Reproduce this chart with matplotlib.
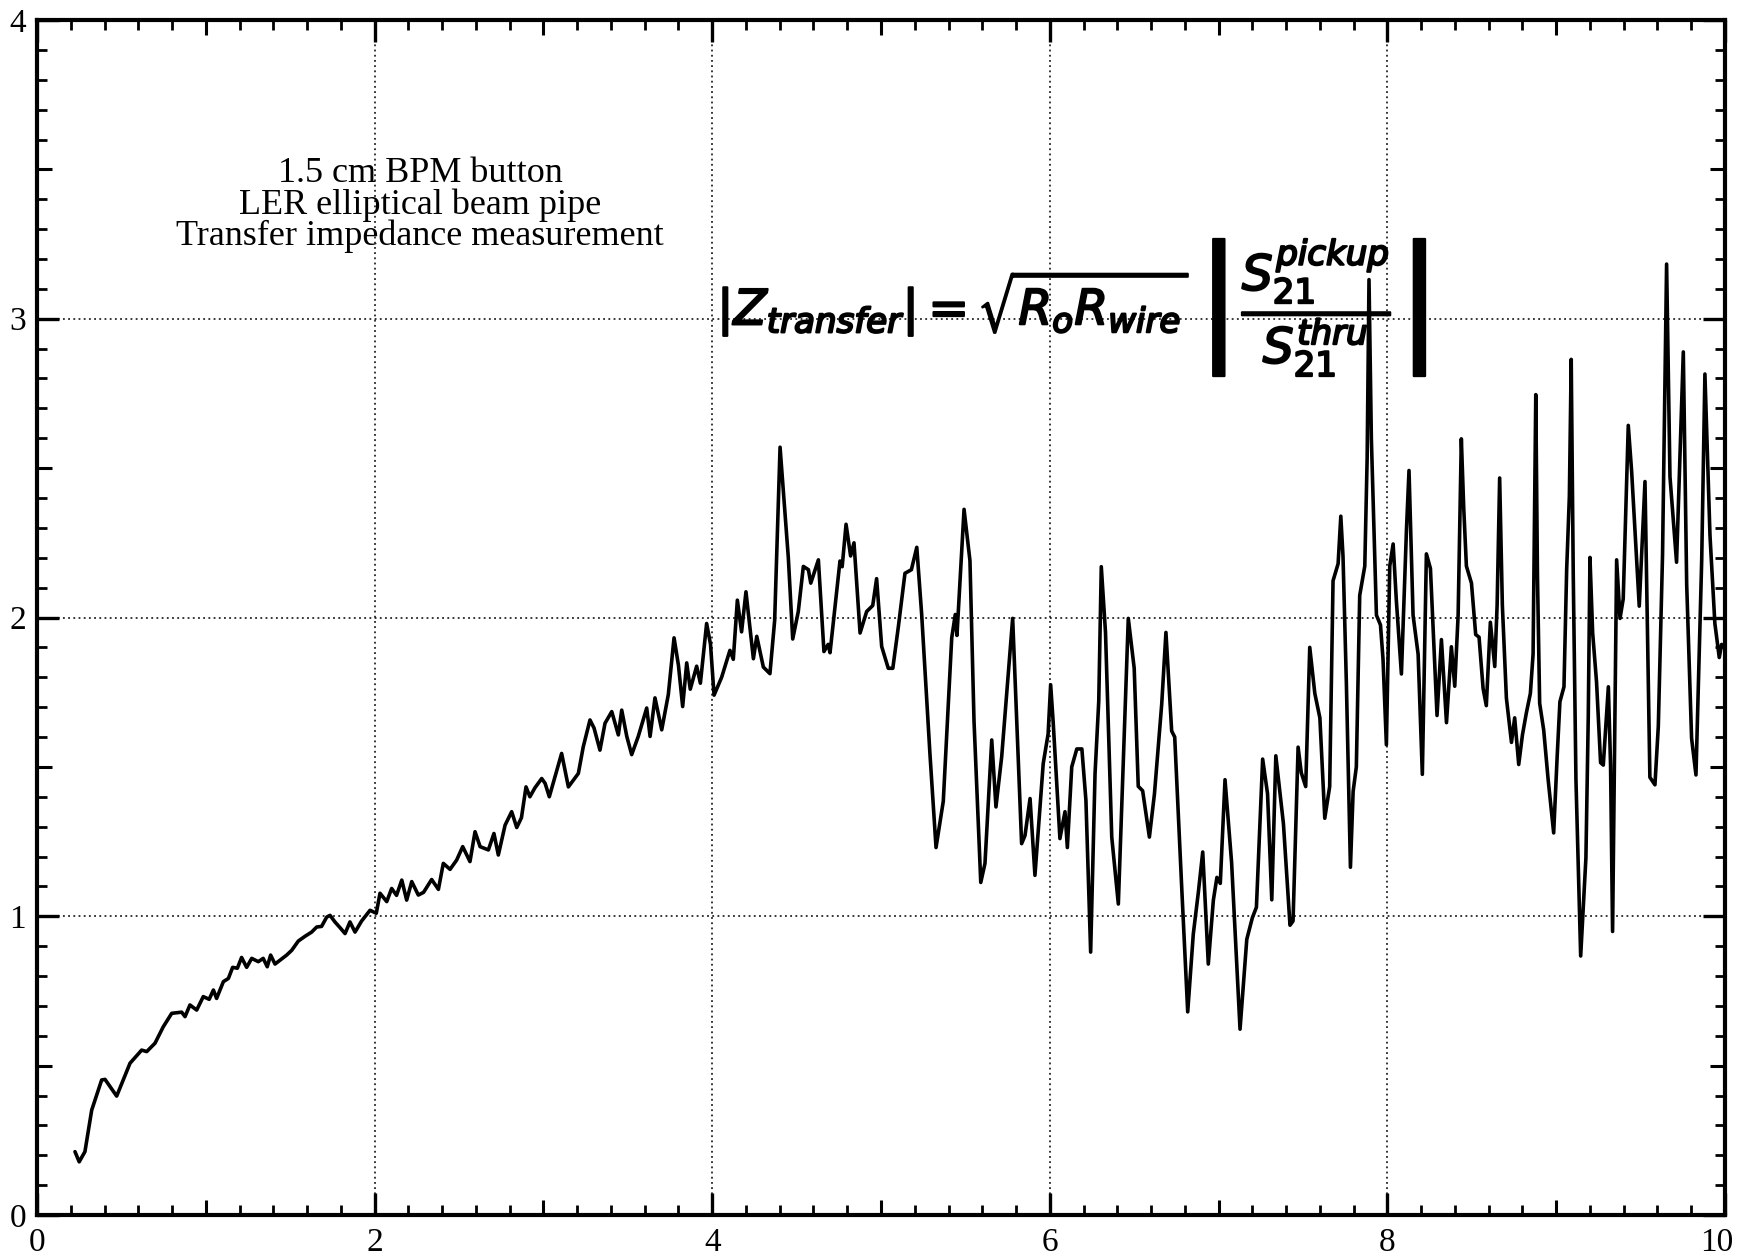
import matplotlib
matplotlib.use("Agg")
import matplotlib.pyplot as plt
import matplotlib.patheffects as pe
from matplotlib.transforms import ScaledTranslation
from matplotlib.ticker import MultipleLocator, FixedLocator, NullFormatter, FixedFormatter

# Measured transfer impedance of the 1.5 cm BPM button (frequency in GHz, |Z| in ohms)
freq = [
    0.225, 0.25, 0.284, 0.324, 0.383, 0.403, 0.472, 0.551, 0.62, 0.65,
    0.699, 0.748, 0.798, 0.857, 0.877, 0.906, 0.946, 0.985, 1.02, 1.045,
    1.064, 1.104, 1.134, 1.159, 1.187, 1.212, 1.242, 1.272, 1.311, 1.34,
    1.364, 1.384, 1.41, 1.44, 1.479, 1.509, 1.548, 1.588, 1.627, 1.657,
    1.686, 1.716, 1.736, 1.765, 1.795, 1.825, 1.854, 1.884, 1.923, 1.973,
    2.01, 2.032, 2.072, 2.101, 2.13, 2.161, 2.19, 2.22, 2.259, 2.29,
    2.338, 2.378, 2.407, 2.447, 2.486, 2.522, 2.565, 2.595, 2.625, 2.674,
    2.707, 2.733, 2.773, 2.812, 2.842, 2.87, 2.897, 2.92, 2.95, 2.99,
    3.01, 3.035, 3.108, 3.148, 3.207, 3.236, 3.276, 3.30, 3.335, 3.365,
    3.405, 3.444, 3.464, 3.494, 3.523, 3.562, 3.612, 3.632, 3.661, 3.701,
    3.74, 3.774, 3.80, 3.825, 3.849, 3.87, 3.908, 3.93, 3.967, 3.99,
    4.011, 4.056, 4.105, 4.125, 4.149, 4.174, 4.2, 4.244, 4.264, 4.303,
    4.342, 4.37, 4.402, 4.451, 4.477, 4.51, 4.54, 4.57, 4.584, 4.629,
    4.662, 4.687, 4.698, 4.757, 4.77, 4.793, 4.82, 4.84, 4.876, 4.915,
    4.951, 4.974, 5.004, 5.043, 5.07, 5.103, 5.142, 5.18, 5.212, 5.241,
    5.29, 5.326, 5.369, 5.419, 5.44, 5.45, 5.492, 5.527, 5.551, 5.591,
    5.616, 5.656, 5.681, 5.715, 5.78, 5.833, 5.853, 5.883, 5.912, 5.961,
    5.99, 6.005, 6.02, 6.06, 6.09, 6.104, 6.13, 6.16, 6.19, 6.214,
    6.242, 6.268, 6.29, 6.305, 6.33, 6.367, 6.406, 6.465, 6.50, 6.524,
    6.55, 6.59, 6.62, 6.663, 6.688, 6.722, 6.74, 6.782, 6.817, 6.85,
    6.88, 6.906, 6.939, 6.969, 6.99, 7.01, 7.038, 7.077, 7.127, 7.167,
    7.20, 7.224, 7.261, 7.29, 7.315, 7.339, 7.384, 7.423, 7.441, 7.471,
    7.49, 7.516, 7.54, 7.57, 7.60, 7.629, 7.658, 7.678, 7.708, 7.724,
    7.737, 7.757, 7.781, 7.797, 7.816, 7.836, 7.866, 7.88, 7.891, 7.905,
    7.935, 7.959, 7.974, 7.994, 8.014, 8.034, 8.053, 8.083, 8.113, 8.128,
    8.152, 8.182, 8.207, 8.231, 8.255, 8.27, 8.294, 8.32, 8.35, 8.379,
    8.399, 8.419, 8.438, 8.452, 8.468, 8.498, 8.523, 8.543, 8.567, 8.586,
    8.61, 8.636, 8.65, 8.665, 8.681, 8.705, 8.735, 8.754, 8.778, 8.80,
    8.823, 8.847, 8.863, 8.879, 8.889, 8.902, 8.926, 8.952, 8.985, 9.006,
    9.022, 9.046, 9.062, 9.078, 9.089, 9.101, 9.117, 9.145, 9.176, 9.19,
    9.2, 9.216, 9.239, 9.263, 9.279, 9.309, 9.322, 9.334, 9.358, 9.378,
    9.397, 9.427, 9.447, 9.492, 9.526, 9.555, 9.585, 9.605, 9.63, 9.654,
    9.674, 9.713, 9.753, 9.773, 9.802, 9.828, 9.862, 9.881, 9.911, 9.94,
    9.966, 9.98,
]
z_transfer = [
    0.212, 0.178, 0.212, 0.351, 0.452, 0.454, 0.398, 0.508, 0.552, 0.547,
    0.575, 0.630, 0.675, 0.679, 0.664, 0.703, 0.686, 0.731, 0.722, 0.753,
    0.725, 0.781, 0.792, 0.829, 0.826, 0.862, 0.829, 0.859, 0.848, 0.859,
    0.831, 0.870, 0.840, 0.853, 0.870, 0.886, 0.917, 0.933, 0.947, 0.964,
    0.966, 0.997, 1.003, 0.981, 0.962, 0.942, 0.981, 0.947, 0.984, 1.02,
    1.01, 1.077, 1.049, 1.093, 1.07, 1.121, 1.054, 1.116, 1.071, 1.08,
    1.123, 1.090, 1.177, 1.157, 1.188, 1.233, 1.183, 1.283, 1.233, 1.222,
    1.277, 1.205, 1.305, 1.350, 1.297, 1.33, 1.433, 1.40, 1.43, 1.461,
    1.445, 1.400, 1.545, 1.433, 1.478, 1.567, 1.657, 1.63, 1.556, 1.646,
    1.685, 1.607, 1.690, 1.602, 1.541, 1.602, 1.697, 1.602, 1.731, 1.624,
    1.742, 1.932, 1.84, 1.702, 1.848, 1.76, 1.837, 1.78, 1.98, 1.91,
    1.74, 1.80, 1.89, 1.86, 2.058, 1.952, 2.086, 1.862, 1.937, 1.834,
    1.812, 1.99, 2.57, 2.20, 1.928, 2.02, 2.171, 2.16, 2.115, 2.193,
    1.886, 1.91, 1.882, 2.189, 2.17, 2.312, 2.206, 2.25, 1.948, 2.02,
    2.04, 2.13, 1.903, 1.83, 1.83, 1.97, 2.148, 2.16, 2.235, 2.01,
    1.543, 1.23, 1.385, 1.932, 2.01, 1.94, 2.362, 2.19, 1.654, 1.113,
    1.177, 1.59, 1.366, 1.534, 1.997, 1.243, 1.27, 1.394, 1.137, 1.511,
    1.61, 1.775, 1.65, 1.26, 1.35, 1.23, 1.50, 1.56, 1.56, 1.388,
    0.88, 1.477, 1.72, 2.17, 1.95, 1.265, 1.041, 1.997, 1.83, 1.435,
    1.42, 1.265, 1.41, 1.71, 1.95, 1.62, 1.60, 1.09, 0.68, 0.94,
    1.08, 1.215, 0.84, 1.054, 1.13, 1.11, 1.457, 1.18, 0.622, 0.923,
    0.995, 1.03, 1.526, 1.41, 1.055, 1.537, 1.31, 0.97, 0.984, 1.566,
    1.48, 1.434, 1.90, 1.746, 1.664, 1.328, 1.434, 2.123, 2.18, 2.339,
    2.205, 1.779, 1.164, 1.418, 1.50, 2.074, 2.172, 2.533, 3.131, 2.598,
    2.008, 1.975, 1.861, 1.574, 2.172, 2.246, 2.057, 1.811, 2.295, 2.492,
    2.008, 1.877, 1.475, 2.213, 2.164, 1.975, 1.672, 1.926, 1.648, 1.902,
    1.77, 2.008, 2.598, 2.369, 2.172, 2.115, 1.943, 1.934, 1.762, 1.705,
    1.984, 1.836, 2.041, 2.467, 2.041, 1.73, 1.582, 1.664, 1.508, 1.607,
    1.68, 1.746, 1.877, 2.746, 2.139, 1.713, 1.623, 1.459, 1.279, 1.538,
    1.718, 1.768, 2.16, 2.406, 2.864, 2.144, 1.457, 0.867, 1.195, 1.669,
    2.201, 1.948, 1.784, 1.514, 1.506, 1.768, 1.506, 0.949, 2.193, 1.997,
    2.062, 2.643, 2.488, 2.038, 2.455, 1.465, 1.44, 1.637, 2.21, 3.183,
    2.471, 2.185, 2.889, 2.111, 1.596, 1.473, 2.193, 2.815, 2.275, 1.98,
    1.866, 1.91,
]

x_ticks = [0, 2, 4, 6, 8, 10]
y_ticks = [0, 1, 2, 3, 4]
x_labels = ["0", "2", "4", "6", "8", "10"]
y_labels = ["0", "1", "2", "3", "4"]
x_grid = [2, 4, 6, 8]
y_grid = [1, 2, 3]
x_mid_ticks = [1, 3, 5, 7, 9]
y_mid_ticks = [0.5, 1.5, 2.5, 3.5]

caption = "1.5 cm BPM button\nLER elliptical beam pipe\nTransfer impedance measurement"
formula = (r"$|Z_{transfer}|=\sqrt{R_oR_{wire}}\,"
           r"\left|\dfrac{S_{21}^{pickup}}{S_{21}^{thru}}\right|$")

serif = ["Liberation Serif", "DejaVu Serif"]

fig = plt.figure(figsize=(17.38, 12.59), dpi=100)
rect = [37 / 1738, 44 / 1259, (1725 - 37) / 1738, (1215 - 20) / 1259]
ax = fig.add_axes(rect)
ax.set_xlim(0, 10)
ax.set_ylim(0, 4)

# dotted grid at the labelled values
for gx in x_grid:
    ax.axvline(gx, color="black", lw=1.1, ls=(0, (1.2, 2.2)), zorder=1)
for gy in y_grid:
    ax.axhline(gy, color="black", lw=1.1, ls=(0, (1.2, 2.2)), zorder=1)

ax.plot(freq, z_transfer, color="black", lw=2.6, solid_joinstyle="round",
        solid_capstyle="round", zorder=3)

for side in ax.spines.values():
    side.set_linewidth(3.0)

# major / minor ticks, all pointing inward on every side
ax.xaxis.set_major_locator(FixedLocator(x_ticks))
ax.xaxis.set_major_formatter(FixedFormatter(x_labels))
ax.xaxis.set_minor_locator(MultipleLocator(0.2))
ax.yaxis.set_major_locator(FixedLocator(y_ticks))
ax.yaxis.set_major_formatter(FixedFormatter(y_labels))
ax.yaxis.set_minor_locator(MultipleLocator(0.1))
ax.tick_params(which="both", direction="in", top=True, right=True, color="black")
ax.tick_params(which="major", length=16, width=2.4, labelsize=24)
ax.tick_params(which="minor", length=7, width=2.0)
ax.tick_params(axis="x", pad=9)
ax.tick_params(axis="y", pad=8)
for lab in ax.get_xticklabels() + ax.get_yticklabels():
    lab.set_family(serif)

# keep the last frequency label inside the figure edge
last_tick = ax.xaxis.get_major_ticks()[-1]
last_tick.label1.set_transform(last_tick.label1.get_transform()
                               + ScaledTranslation(-0.08, 0, fig.dpi_scale_trans))

# intermediate-length ticks at odd integers (x) and half units (y)
mid = fig.add_axes(rect, frameon=False)
mid.set_xlim(0, 10)
mid.set_ylim(0, 4)
mid.xaxis.set_major_locator(FixedLocator(x_mid_ticks))
mid.yaxis.set_major_locator(FixedLocator(y_mid_ticks))
mid.xaxis.set_major_formatter(NullFormatter())
mid.yaxis.set_major_formatter(NullFormatter())
mid.xaxis.set_minor_locator(FixedLocator([]))
mid.yaxis.set_minor_locator(FixedLocator([]))
mid.tick_params(which="major", direction="in", top=True, right=True,
                length=11, width=2.2, color="black")
mid.patch.set_visible(False)

ax.text(2.27, 3.38, caption, ha="center", va="center", fontsize=26,
        family=serif, linespacing=0.92, zorder=4)

ax.text(6.13, 3.04, formula, ha="center", va="center", fontsize=35,
        color="black", zorder=4,
        path_effects=[pe.withStroke(linewidth=1.5, foreground="black")])

fig.savefig("out.png", dpi=100, facecolor="white")
